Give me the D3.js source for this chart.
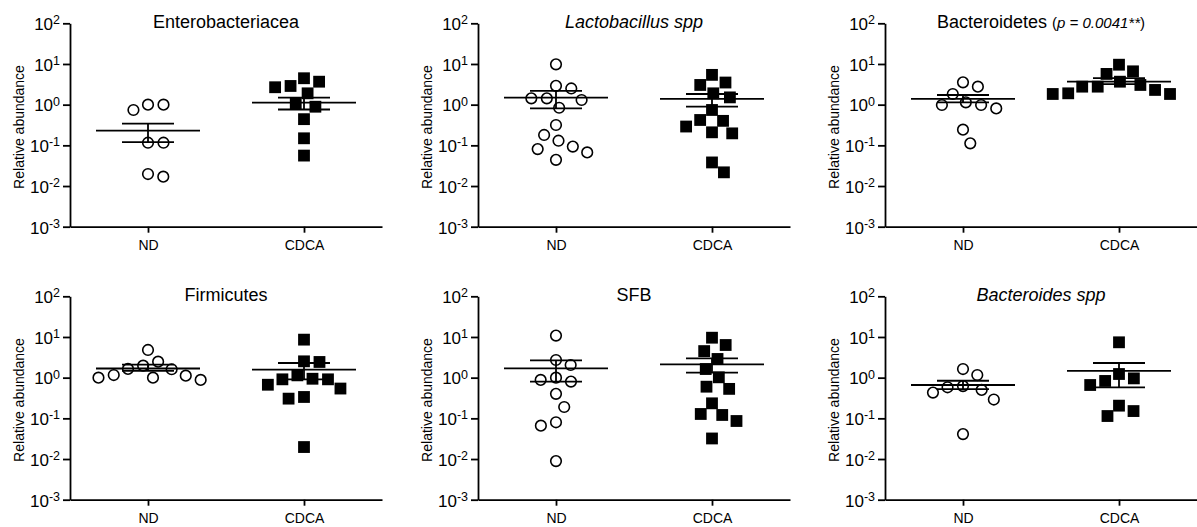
<!DOCTYPE html>
<html>
<head>
<meta charset="utf-8">
<script src="https://cdn.jsdelivr.net/npm/d3@7"></script>
<style>
body{margin:0;background:#fff;}
svg{display:block;font-family:'Liberation Sans',Arial,sans-serif;}
</style>
</head>
<body>
<div id="canvas"></div>
<script>
//groups on the x axis and log ticks (exponents of 10)
var groups = ['ND','CDCA'];
var tickExps = [-3,-2,-1,0,1,2];
var yLabel = 'Relative abundance';

//panel titles
var titles = ['Enterobacteriacea','Lactobacillus spp','Bacteroidetes','Firmicutes','SFB','Bacteroides spp'];
var italicTitle = [false,true,false,false,false,true];
var pNote = 'p = 0.0041**';

//values
var enteroND = [1.0,0.74,1.0,0.116,0.116,0.017,0.0197];
var enteroCDCA = [4.46,2.88,1.9,2.68,3.67,0.89,1.08,0.44,0.149,0.056];
var enteroMean = [0.23,1.12], enteroSem = [[0.12,0.34],[0.76,1.49]];

var lactoND = [9.8,2.9,2.5,1.43,1.3,1.43,0.84,0.316,0.18,0.13,0.081,0.067,0.093,0.044];
var lactoCDCA = [3.5,1.9,3.05,5.4,1.51,0.74,0.40,0.42,0.29,0.209,0.197,0.038,0.0217];
var lactoMean = [1.49,1.38], lactoSem = [[0.81,2.17],[0.89,1.83]];

var bacteND = [2.77,3.54,1.83,1.14,0.98,0.81,0.98,0.243,0.112];
var bacteCDCA = [6.6,5.7,9.6,3.05,2.77,1.9,1.83,1.83,2.3,2.77,3.67];
var bacteMean = [1.38,3.67], bacteSem = [[1.14,1.73],[3.2,4.5]];

var firmND = [4.8,1.64,1.16,1.0,0.88,1.0,1.12,2.47,1.61,1.97];
var firmCDCA = [8.6,2.43,2.52,0.94,0.91,0.91,1.14,0.67,0.54,0.335,0.305,0.0197];
var firmMean = [1.68,1.57], firmSem = [[1.46,2.1],[0.91,2.29]];

var sfbND = [10.8,2.72,2.05,0.88,0.8,1.0,0.40,0.19,0.08,0.066,0.0089];
var sfbCDCA = [9.6,6.35,4.5,2.88,1.63,1.02,0.53,0.60,0.234,0.121,0.128,0.086,0.032];
var sfbMean = [1.7,2.13], sfbSem = [[0.8,2.67],[1.33,2.99]];

var bspND = [1.63,1.16,0.58,0.43,0.50,0.62,0.29,0.041];
var bspCDCA = [7.4,1.23,0.83,0.66,0.96,0.205,0.151,0.114];
var bspMean = [0.66,1.46], bspSem = [[0.52,0.84],[0.58,2.29]];

var panels = [
  {vals:[enteroND,enteroCDCA], mean:enteroMean, sem:enteroSem},
  {vals:[lactoND,lactoCDCA], mean:lactoMean, sem:lactoSem},
  {vals:[bacteND,bacteCDCA], mean:bacteMean, sem:bacteSem},
  {vals:[firmND,firmCDCA], mean:firmMean, sem:firmSem},
  {vals:[sfbND,sfbCDCA], mean:sfbMean, sem:sfbSem},
  {vals:[bspND,bspCDCA], mean:bspMean, sem:bspSem}
];

//layout
var W = 1197, H = 527;
var colX = [70,478,885], rowY = [23.3,296.3];
var pw = 312, ph = 203.4;

var svg = d3.select('#canvas')
  .append('svg')
  .attr('width',W)
  .attr('height',H);

//simple beeswarm: spread points sideways so markers don't overlap,
//ties go to the side that has fewer neighbours
function swarm(ys, D){
  var order = ys.map(function(y,i){return i;}).sort(function(a,b){return ys[a]-ys[b];});
  var placed = [], xs = [];
  order.forEach(function(i){
    var y = ys[i], cands = [0], lean = 0;
    placed.forEach(function(p){
      var dy = Math.abs(p.y-y);
      if(dy < 2*D) lean += p.x;
      if(dy < D){
        var dx = Math.sqrt(D*D-dy*dy);
        cands.push(p.x+dx, p.x-dx);
      }
    });
    var side = lean > 0 ? 1 : -1;
    cands.sort(function(a,b){
      var d = Math.abs(a)-Math.abs(b);
      if(Math.abs(d) > 0.5) return d;
      return side*(a-b);
    });
    var x = cands.find(function(c){
      return placed.every(function(p){ return (p.x-c)*(p.x-c)+(p.y-y)*(p.y-y) >= D*D-0.01; });
    });
    placed.push({x:x,y:y});
    xs[i] = x;
  });
  return xs;
}

panels.forEach(function(p,i){
  var col = i%3, row = Math.floor(i/3);
  var plot = svg.append('g')
    .attr('transform','translate('+colX[col]+','+rowY[row]+')');

  var scaleY = d3.scaleLog().domain([1e-3,1e2]).range([ph,0]);
  var scaleX = d3.scalePoint().domain(groups).range([0,pw]).padding(0.5);

  //axes
  var axisY = d3.axisLeft(scaleY)
    .tickValues(tickExps.map(function(e){return Math.pow(10,e);}))
    .tickSize(7)
    .tickSizeOuter(0)
    .tickFormat('');
  var gy = plot.append('g').attr('class','yAxis').call(axisY);

  gy.selectAll('.tick').each(function(d,j){
    var t = d3.select(this).append('text')
      .attr('x',-10)
      .attr('y',6.3)
      .attr('fill','#000')
      .attr('text-anchor','end')
      .style('font-size','17px');
    t.append('tspan').text('10');
    t.append('tspan').attr('dy',-5.8).style('font-size','12.5px').text(tickExps[j]);
  });

  var axisX = d3.axisBottom(scaleX)
    .tickSize(6)
    .tickSizeOuter(0)
    .tickPadding(7.4);
  var gx = plot.append('g').attr('class','xAxis')
    .attr('transform','translate(0,'+ph+')')
    .call(axisX);
  gx.selectAll('text').attr('fill','#000').style('font-size','14px');

  plot.selectAll('.domain, .tick line').attr('stroke','#000').attr('stroke-width',1.8);
  gy.attr('font-family',null).attr('font-size',null);
  gx.attr('font-family',null).attr('font-size',null);

  //y label
  plot.append('text')
    .attr('transform','rotate(-90)')
    .attr('x',-ph/2-2)
    .attr('y',-46)
    .attr('text-anchor','middle')
    .style('font-size','14px')
    .text(yLabel);

  //title
  var title = plot.append('text')
    .attr('x',pw/2)
    .attr('y',5)
    .attr('text-anchor','middle')
    .style('font-size','18px');
  if(i===2){
    title.append('tspan').text(titles[i]+' ');
    title.append('tspan').style('font-size','15px').text('(');
    title.append('tspan').style('font-size','15px').style('font-style','italic').text(pNote);
    title.append('tspan').style('font-size','15px').text(')');
  } else {
    title.text(titles[i]).style('font-style',italicTitle[i] ? 'italic' : 'normal');
  }

  p.vals.forEach(function(vals,k){
    var cx = scaleX(groups[k]);
    var ys = vals.map(function(v){return scaleY(v);});
    var dx = swarm(ys,15.5);
    var pts = vals.map(function(v,j){return {v:v,dx:dx[j]};});

    if(k===0){
      plot.selectAll('circle.g'+k)
        .data(pts)
        .enter()
        .append('circle')
        .attr('class','g'+k)
        .attr('cx',function(d){return cx+d.dx;})
        .attr('cy',function(d){return scaleY(d.v);})
        .attr('r',5.3)
        .attr('fill','none')
        .attr('stroke','#000')
        .attr('stroke-width',1.6);
    } else {
      plot.selectAll('rect.g'+k)
        .data(pts)
        .enter()
        .append('rect')
        .attr('class','g'+k)
        .attr('x',function(d){return cx+d.dx-5.9;})
        .attr('y',function(d){return scaleY(d.v)-5.9;})
        .attr('width',11.8)
        .attr('height',11.8)
        .attr('fill','#000');
    }

    //mean and SEM
    var lo = scaleY(p.sem[k][0]), hi = scaleY(p.sem[k][1]), m = scaleY(p.mean[k]);
    var bars = plot.append('g').attr('stroke','#000').attr('stroke-width',1.8);
    bars.append('line').attr('x1',cx-52).attr('x2',cx+52).attr('y1',m).attr('y2',m);
    bars.append('line').attr('x1',cx-26).attr('x2',cx+26).attr('y1',lo).attr('y2',lo);
    bars.append('line').attr('x1',cx-26).attr('x2',cx+26).attr('y1',hi).attr('y2',hi);
    bars.append('line').attr('x1',cx).attr('x2',cx).attr('y1',lo).attr('y2',hi);
  });
});
</script>
</body>
</html>
